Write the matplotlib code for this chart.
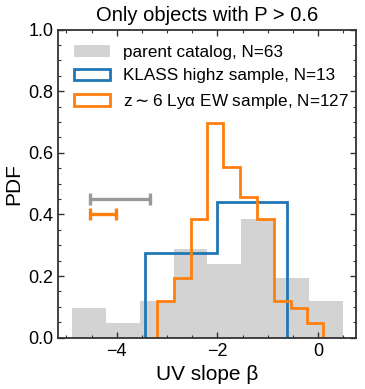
import numpy as np
import matplotlib
matplotlib.use("Agg")
import matplotlib.pyplot as plt
from matplotlib.ticker import MultipleLocator

plt.rcParams['font.family'] = ['Liberation Sans', 'DejaVu Sans']

# parent catalog (density)
parent_edges = [-4.885, -4.218, -3.538, -2.865, -2.198, -1.525, -0.859, -0.186, 0.487]
parent_pdf = [0.095, 0.048, 0.119, 0.288, 0.240, 0.385, 0.192, 0.119]

# KLASS highz sample
klass_edges = [-3.434, -2.014, -0.62]
klass_pdf = [0.276, 0.441]

# z~6 Lya EW sample
lya_edges = [-3.208, -2.871, -2.529, -2.198, -1.889, -1.552, -1.216, -0.879, -0.548, -0.218, 0.099]
lya_pdf = [0.119, 0.192, 0.385, 0.697, 0.553, 0.457, 0.385, 0.119, 0.095, 0.048]

# typical uncertainties
err_left = -4.53
parent_err = 0.595
lya_err = 0.26
parent_err_y = 0.45
lya_err_y = 0.40

fig = plt.figure(figsize=(3.65, 3.89), dpi=100)
ax = fig.add_axes([0.160, 0.132, 0.815, 0.792])

ax.hist(parent_edges[:-1], bins=parent_edges, weights=parent_pdf, histtype='bar',
        color='#d3d3d3', rwidth=1.0, label='parent catalog, N=63')
ax.hist(klass_edges[:-1], bins=klass_edges, weights=klass_pdf, histtype='step',
        color='#1f77b4', lw=2.0, label='KLASS highz sample, N=13')
ax.hist(lya_edges[:-1], bins=lya_edges, weights=lya_pdf, histtype='step',
        color='#ff7f0e', lw=2.0, label='z$\\sim$6 Ly\u03b1 EW sample, N=127')

ax.errorbar([err_left + parent_err], [parent_err_y], xerr=[parent_err], color='#999999',
            lw=2.4, capsize=4.5, capthick=2.4)
ax.errorbar([err_left + lya_err], [lya_err_y], xerr=[lya_err], color='#ff7f0e',
            lw=2.4, capsize=4.5, capthick=2.4)

ax.set_xlim(-5.16, 0.75)
ax.set_ylim(0, 1.0)
ax.xaxis.set_major_locator(MultipleLocator(2))
ax.xaxis.set_minor_locator(MultipleLocator(0.5))
ax.yaxis.set_major_locator(MultipleLocator(0.2))
ax.yaxis.set_minor_locator(MultipleLocator(0.05))
ax.tick_params(which='both', direction='in', top=True, right=True, labelsize=13, color='#333333')
ax.tick_params(which='major', length=4, width=1)
ax.tick_params(which='minor', length=2, width=0.8)
for s in ax.spines.values():
    s.set_linewidth(1.3)
    s.set_color('#333333')

ax.set_xlabel('UV slope \u03b2', fontsize=15)
ax.set_ylabel('PDF', fontsize=15)
ax.set_title('Only objects with P > 0.6', fontsize=14.5)
ax.legend(loc='upper left', frameon=False, fontsize=12.3, handlelength=2.1,
          labelspacing=0.5, borderaxespad=0.5)

fig.savefig('out.png', dpi=100)
